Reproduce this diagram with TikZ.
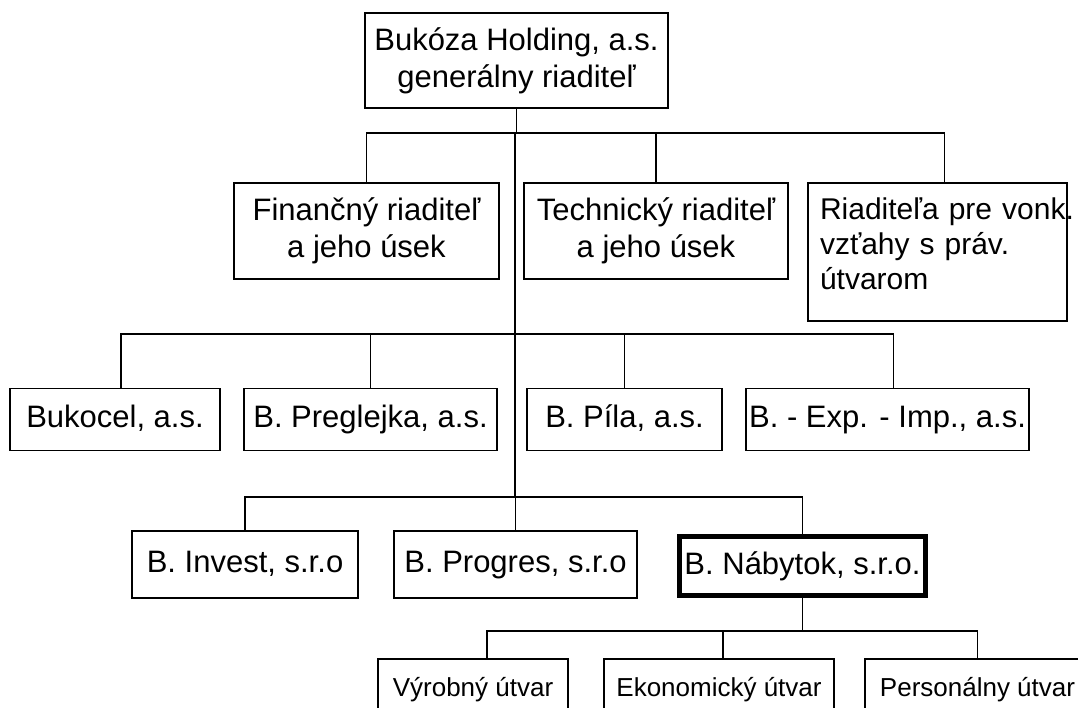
\documentclass[tikz,border=0pt]{standalone}
\usepackage{fontspec}
\setmainfont{Liberation Sans}
\usepackage{tikz}
\usetikzlibrary{positioning}

\begin{document}
\begin{tikzpicture}[x=1pt,y=-1pt,line width=1.7pt,
        unit/.style={draw,inner sep=0pt,minimum height=62pt,align=center,font=\fontsize{31}{37}\selectfont},
        firm/.style={unit,text height=23pt,text depth=7pt},
        dept/.style={draw,inner sep=0pt,minimum height=62pt,text height=19pt,text depth=6pt,font=\fontsize{26}{31}\selectfont}]
    \useasboundingbox (0,0) rectangle (1078,707);

    \node   [unit,minimum width=303pt,minimum height=95pt]  (gr)      at (516.5,60.5)  {Bukóza Holding, a.s.\\generálny riaditeľ};

    \node   [unit,minimum width=265pt,minimum height=96pt]  (fin)     at (366.5,231)   {Finančný riaditeľ\\a jeho úsek};
    \node   [unit,minimum width=264pt,minimum height=96pt]  (tech)    at (656,231)     {Technický riaditeľ\\a jeho úsek};
    \node   [unit,minimum width=259pt,minimum height=138pt,text width=235pt,align=left,font=\fontsize{30}{35}\selectfont]
                                                            (vztahy)  at (937.5,252)   {Riaditeľa~pre~vonk.\\vzťahy s práv.\\útvarom\\[-19pt]\mbox{}};

    \node   [firm,minimum width=210pt]                      (bukocel) at (115,419.5)   {Bukocel, a.s.};
    \node   [firm,minimum width=253pt]                      (pregl)   at (370.5,419.5) {B. Preglejka, a.s.};
    \node   [firm,minimum width=195pt]                      (pila)    at (624.5,419.5) {B. Píla, a.s.};
    \node   [firm,minimum width=283pt]                      (expimp)  at (887.5,419.5) {B. - Exp. - Imp., a.s.};

    \node   [firm,minimum width=226pt,minimum height=67pt]  (invest)  at (245,564.5)   {B. Invest, s.r.o};
    \node   [firm,minimum width=243pt,minimum height=67pt]  (progres) at (515.5,564.5) {B. Progres, s.r.o};
    \node   [firm,minimum width=246pt,minimum height=59pt,line width=5pt]
                                                            (nab)     at (802.5,566)   {B. Nábytok, s.r.o.};

    \node   [dept,minimum width=190pt]                      (vyr)     at (473,690)     {Výrobný útvar};
    \node   [dept,minimum width=230pt]                      (ekon)    at (719,690)     {Ekonomický útvar};
    \node   [dept,minimum width=225pt]                      (pers)    at (977.5,690)   {Personálny útvar};

    \coordinate (b1) at (515,133);
    \coordinate (b2) at (515,334);
    \coordinate (b3) at (515,497);

    \draw   (gr.south) -- (gr.south |- b1);
    \draw   (fin.north) |- (b1) -| ([xshift=7pt]vztahy.north);
    \draw   (tech.north) -- (tech.north |- b1);
    \draw   (b1) -- (b3);

    \draw   ([xshift=6pt]bukocel.north) |- (b2) -| ([xshift=6pt]expimp.north);
    \draw   (pregl.north) -- (pregl.north |- b2);
    \draw   (pila.north) -- (pila.north |- b2);

    \draw   (invest.north) |- (b3) -| (nab.north);
    \draw   (progres.north) -- (progres.north |- b3);

    \draw   (nab.south) -- ++(0,33) coordinate (b4);
    \draw   ([xshift=14pt]vyr.north) |- (b4) -| (pers.north);
    \draw   ([xshift=4pt]ekon.north) -- ([xshift=4pt]ekon.north |- b4);
\end{tikzpicture}
\end{document}
